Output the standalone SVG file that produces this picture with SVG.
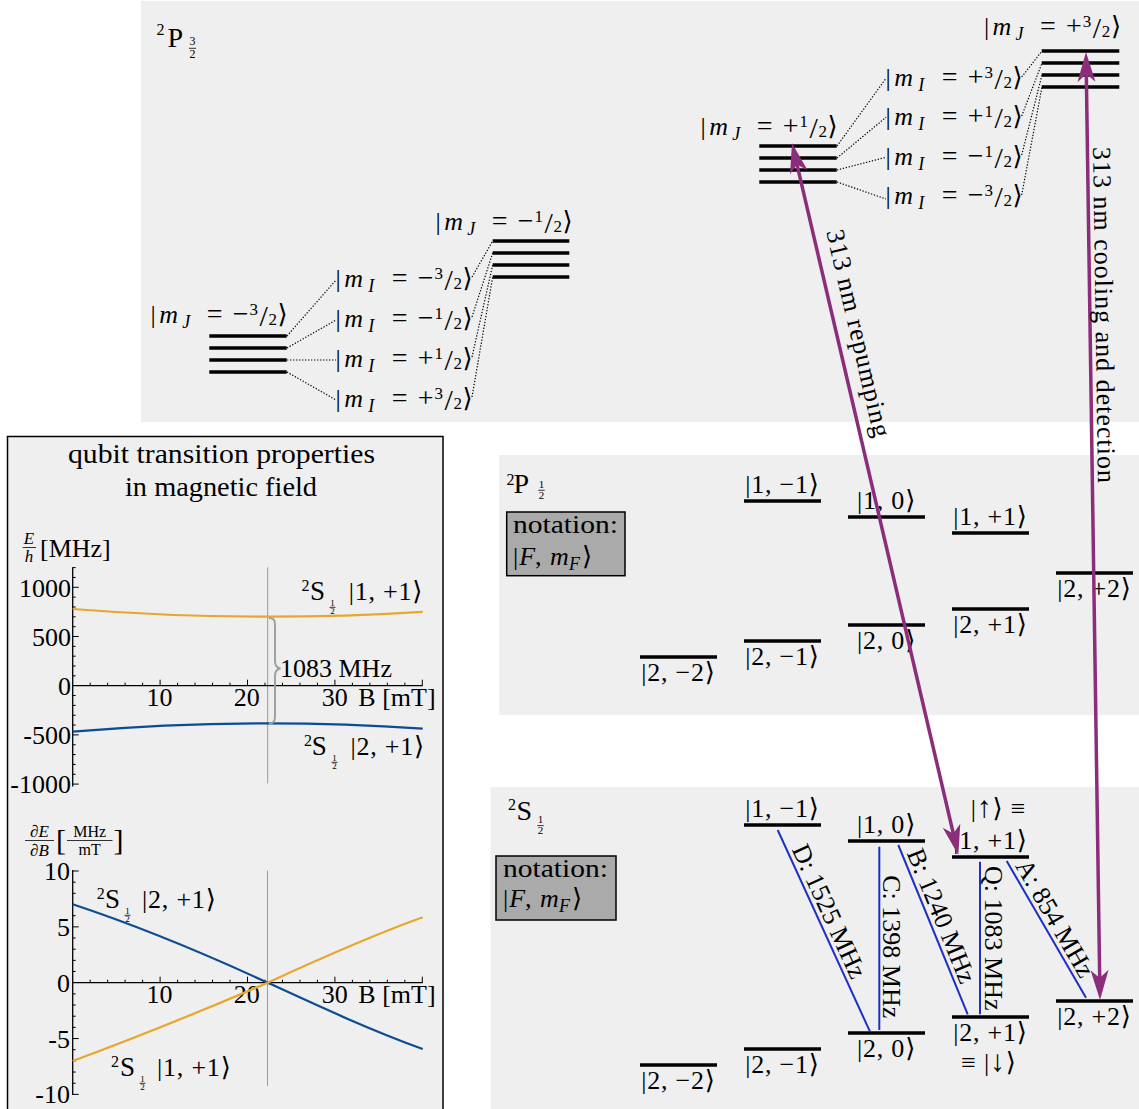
<svg xmlns="http://www.w3.org/2000/svg" width="1139" height="1109" viewBox="0 0 1139 1109">
<defs>
<style>
.t{font-family:"Liberation Serif","DejaVu Serif",serif;font-size:26px;fill:#000}
.k{font-family:"Liberation Serif","DejaVu Serif",serif;font-size:26px;fill:#000;text-anchor:middle}
.kt{font-family:"Liberation Serif","DejaVu Serif",serif;font-size:26px;fill:#000;text-anchor:middle;letter-spacing:0.8px}
.i{font-style:italic}
.sb{font-size:18px}
.fr{font-size:17px}
.op{font-size:28px}
.sl{font-size:30px}
.ar{font-size:30px}
.bg{fill:#efefef}
.bar{stroke:#000;stroke-width:3.5}
.dot{stroke:#000;stroke-width:1.2;stroke-dasharray:1.3 1.7;fill:none}
.blue{stroke:#1b30c8;stroke-width:2;fill:none}
.pur{stroke:#8b2d7b;stroke-width:3.5;fill:none;marker-start:url(#ah);marker-end:url(#ah)}
.ax{stroke:#000;stroke-width:1.3;fill:none}
.tk{stroke:#000;stroke-width:1;fill:none}
.gl{stroke:#9a9a9a;stroke-width:1;fill:none}
.note{fill:#aaaaaa;stroke:#000;stroke-width:1.5}
.fb{stroke:#000;stroke-width:0.8}
</style>
<marker id="ah" markerUnits="userSpaceOnUse" viewBox="-32 -10 44 20" refX="-8" refY="0" markerWidth="44" markerHeight="20" orient="auto-start-reverse">
<path d="M0,0 L-30,-9 L-22,0 L-30,9 Z" fill="#8b2d7b"/>
</marker>
</defs>

<rect width="1139" height="1109" fill="#fff"/>

<g id="backgrounds">
<rect class="bg" x="141" y="1" width="998" height="421"/>
<rect class="bg" x="499" y="455" width="640" height="260"/>
<rect class="bg" x="490.5" y="787" width="648.5" height="322"/>
<rect x="7.5" y="436.5" width="435.5" height="690" fill="#efefef" stroke="#000" stroke-width="1.5"/>
</g>

<g id="p32">
<g id="p32-term">
<text class="t" x="156.5" y="35" style="font-size:16px">2</text>
<text class="t" x="167.5" y="46.7" style="font-size:28px">P</text>
<text class="k" x="192.5" y="45" style="font-size:12px">3</text>
<line class="fb" x1="189" y1="48.3" x2="196" y2="48.3"/>
<text class="k" x="192.5" y="58.3" style="font-size:12px">2</text>
</g>

<g id="p32-mJ-m3-2">
<line class="bar" x1="209.3" y1="336" x2="286.7" y2="336"/>
<line class="bar" x1="209.3" y1="348" x2="286.7" y2="348"/>
<line class="bar" x1="209.3" y1="360" x2="286.7" y2="360"/>
<line class="bar" x1="209.3" y1="372" x2="286.7" y2="372"/>
<g transform="translate(151.7,323)"><text class="k"><tspan x="1.5">|</tspan><tspan class="i" x="17">m</tspan><tspan class="i sb" x="34.5" y="5">J</tspan><tspan class="op" x="63" y="0">=</tspan><tspan class="op" x="89" y="0">−</tspan><tspan class="fr" x="102" y="-8">3</tspan><tspan class="sl" x="112" y="3">/</tspan><tspan class="fr" x="121" y="2">2</tspan><tspan x="131" y="0">⟩</tspan></text></g>
</g>

<g id="p32-mJ-m1-2">
<line class="bar" x1="492.7" y1="241" x2="569.3" y2="241"/>
<line class="bar" x1="492.7" y1="253" x2="569.3" y2="253"/>
<line class="bar" x1="492.7" y1="265" x2="569.3" y2="265"/>
<line class="bar" x1="492.7" y1="277" x2="569.3" y2="277"/>
<g transform="translate(436.7,230)"><text class="k"><tspan x="1.5">|</tspan><tspan class="i" x="17">m</tspan><tspan class="i sb" x="34.5" y="5">J</tspan><tspan class="op" x="63" y="0">=</tspan><tspan class="op" x="89" y="0">−</tspan><tspan class="fr" x="102" y="-8">1</tspan><tspan class="sl" x="112" y="3">/</tspan><tspan class="fr" x="121" y="2">2</tspan><tspan x="131" y="0">⟩</tspan></text></g>
</g>

<g id="p32-mI-left">
<g transform="translate(336.7,287)"><text class="k"><tspan x="1.5">|</tspan><tspan class="i" x="17">m</tspan><tspan class="i sb" x="34.5" y="5">I</tspan><tspan class="op" x="63" y="0">=</tspan><tspan class="op" x="89" y="0">−</tspan><tspan class="fr" x="102" y="-8">3</tspan><tspan class="sl" x="112" y="3">/</tspan><tspan class="fr" x="121" y="2">2</tspan><tspan x="131" y="0">⟩</tspan></text></g>
<g transform="translate(336.7,327)"><text class="k"><tspan x="1.5">|</tspan><tspan class="i" x="17">m</tspan><tspan class="i sb" x="34.5" y="5">I</tspan><tspan class="op" x="63" y="0">=</tspan><tspan class="op" x="89" y="0">−</tspan><tspan class="fr" x="102" y="-8">1</tspan><tspan class="sl" x="112" y="3">/</tspan><tspan class="fr" x="121" y="2">2</tspan><tspan x="131" y="0">⟩</tspan></text></g>
<g transform="translate(336.7,367)"><text class="k"><tspan x="1.5">|</tspan><tspan class="i" x="17">m</tspan><tspan class="i sb" x="34.5" y="5">I</tspan><tspan class="op" x="63" y="0">=</tspan><tspan class="op" x="89" y="0">+</tspan><tspan class="fr" x="102" y="-8">1</tspan><tspan class="sl" x="112" y="3">/</tspan><tspan class="fr" x="121" y="2">2</tspan><tspan x="131" y="0">⟩</tspan></text></g>
<g transform="translate(336.7,407)"><text class="k"><tspan x="1.5">|</tspan><tspan class="i" x="17">m</tspan><tspan class="i sb" x="34.5" y="5">I</tspan><tspan class="op" x="63" y="0">=</tspan><tspan class="op" x="89" y="0">+</tspan><tspan class="fr" x="102" y="-8">3</tspan><tspan class="sl" x="112" y="3">/</tspan><tspan class="fr" x="121" y="2">2</tspan><tspan x="131" y="0">⟩</tspan></text></g>
</g>

<g id="p32-mJ-p1-2">
<line class="bar" x1="759.3" y1="146" x2="836.7" y2="146"/>
<line class="bar" x1="759.3" y1="158" x2="836.7" y2="158"/>
<line class="bar" x1="759.3" y1="170" x2="836.7" y2="170"/>
<line class="bar" x1="759.3" y1="182" x2="836.7" y2="182"/>
<g transform="translate(701.7,135)"><text class="k"><tspan x="1.5">|</tspan><tspan class="i" x="17">m</tspan><tspan class="i sb" x="34.5" y="5">J</tspan><tspan class="op" x="63" y="0">=</tspan><tspan class="op" x="89" y="0">+</tspan><tspan class="fr" x="102" y="-8">1</tspan><tspan class="sl" x="112" y="3">/</tspan><tspan class="fr" x="121" y="2">2</tspan><tspan x="131" y="0">⟩</tspan></text></g>
</g>

<g id="p32-mI-right">
<g transform="translate(886.7,86)"><text class="k"><tspan x="1.5">|</tspan><tspan class="i" x="17">m</tspan><tspan class="i sb" x="34.5" y="5">I</tspan><tspan class="op" x="63" y="0">=</tspan><tspan class="op" x="89" y="0">+</tspan><tspan class="fr" x="102" y="-8">3</tspan><tspan class="sl" x="112" y="3">/</tspan><tspan class="fr" x="121" y="2">2</tspan><tspan x="131" y="0">⟩</tspan></text></g>
<g transform="translate(886.7,125)"><text class="k"><tspan x="1.5">|</tspan><tspan class="i" x="17">m</tspan><tspan class="i sb" x="34.5" y="5">I</tspan><tspan class="op" x="63" y="0">=</tspan><tspan class="op" x="89" y="0">+</tspan><tspan class="fr" x="102" y="-8">1</tspan><tspan class="sl" x="112" y="3">/</tspan><tspan class="fr" x="121" y="2">2</tspan><tspan x="131" y="0">⟩</tspan></text></g>
<g transform="translate(886.7,164.5)"><text class="k"><tspan x="1.5">|</tspan><tspan class="i" x="17">m</tspan><tspan class="i sb" x="34.5" y="5">I</tspan><tspan class="op" x="63" y="0">=</tspan><tspan class="op" x="89" y="0">−</tspan><tspan class="fr" x="102" y="-8">1</tspan><tspan class="sl" x="112" y="3">/</tspan><tspan class="fr" x="121" y="2">2</tspan><tspan x="131" y="0">⟩</tspan></text></g>
<g transform="translate(886.7,204)"><text class="k"><tspan x="1.5">|</tspan><tspan class="i" x="17">m</tspan><tspan class="i sb" x="34.5" y="5">I</tspan><tspan class="op" x="63" y="0">=</tspan><tspan class="op" x="89" y="0">−</tspan><tspan class="fr" x="102" y="-8">3</tspan><tspan class="sl" x="112" y="3">/</tspan><tspan class="fr" x="121" y="2">2</tspan><tspan x="131" y="0">⟩</tspan></text></g>
</g>

<g id="p32-mJ-p3-2">
<line class="bar" x1="1041.7" y1="51" x2="1119.3" y2="51"/>
<line class="bar" x1="1041.7" y1="63" x2="1119.3" y2="63"/>
<line class="bar" x1="1041.7" y1="75" x2="1119.3" y2="75"/>
<line class="bar" x1="1041.7" y1="87" x2="1119.3" y2="87"/>
<g transform="translate(985,35)"><text class="k"><tspan x="1.5">|</tspan><tspan class="i" x="17">m</tspan><tspan class="i sb" x="34.5" y="5">J</tspan><tspan class="op" x="63" y="0">=</tspan><tspan class="op" x="89" y="0">+</tspan><tspan class="fr" x="102" y="-8">3</tspan><tspan class="sl" x="112" y="3">/</tspan><tspan class="fr" x="121" y="2">2</tspan><tspan x="131" y="0">⟩</tspan></text></g>
</g>
</g>

<g id="p12">
<g id="p12-term">
<text class="t" x="506.5" y="485" style="font-size:16px">2</text>
<text class="t" x="513.5" y="493.3" style="font-size:28px">P</text>
<text class="k" x="541.5" y="488" style="font-size:11px">1</text>
<line class="fb" x1="538.3" y1="490.3" x2="544.7" y2="490.3"/>
<text class="k" x="541.5" y="499" style="font-size:11px">2</text>
</g>
<g id="p12-notation">
<rect class="note" x="506.7" y="512" width="118.3" height="63.7"/>
<text class="t" x="513" y="533.3" textLength="105" lengthAdjust="spacingAndGlyphs">notation:</text>
<text class="t" x="513" y="565">|<tspan class="i" dx="1">F</tspan>, <tspan class="i" dx="2">m</tspan><tspan class="i sb" dy="5">F</tspan><tspan dy="-5" dx="2">⟩</tspan></text>
</g>
<g id="p12-1m1"><line class="bar" x1="744" y1="501" x2="821" y2="501"/><text class="kt" x="782.5" y="493">|1, −1⟩</text></g>
<g id="p12-10"><line class="bar" x1="848" y1="517" x2="925" y2="517"/><text class="kt" x="886.5" y="509">|1, 0⟩</text></g>
<g id="p12-1p1"><line class="bar" x1="952" y1="533" x2="1029" y2="533"/><text class="kt" x="990.5" y="525">|1, +1⟩</text></g>
<g id="p12-2p2"><line class="bar" x1="1056" y1="573" x2="1133" y2="573"/><text class="kt" x="1094.5" y="596.5">|2, +2⟩</text></g>
<g id="p12-2p1"><line class="bar" x1="952" y1="609" x2="1029" y2="609"/><text class="kt" x="990.5" y="632.5">|2, +1⟩</text></g>
<g id="p12-20"><line class="bar" x1="848" y1="625" x2="925" y2="625"/><text class="kt" x="886.5" y="648.5">|2, 0⟩</text></g>
<g id="p12-2m1"><line class="bar" x1="744" y1="641" x2="821" y2="641"/><text class="kt" x="782.5" y="664.5">|2, −1⟩</text></g>
<g id="p12-2m2"><line class="bar" x1="640" y1="657" x2="717" y2="657"/><text class="kt" x="678.5" y="680.5">|2, −2⟩</text></g>
</g>

<g id="s12">
<g id="s12-term">
<text class="t" x="508" y="810" style="font-size:16px">2</text>
<text class="t" x="516.5" y="820" style="font-size:28px">S</text>
<text class="k" x="540.5" y="823.3" style="font-size:11px">1</text>
<line class="fb" x1="537.3" y1="825.6" x2="543.7" y2="825.6"/>
<text class="k" x="540.5" y="834.3" style="font-size:11px">2</text>
</g>
<g id="s12-notation">
<rect class="note" x="496" y="856" width="120" height="64"/>
<text class="t" x="503" y="876.5" textLength="105" lengthAdjust="spacingAndGlyphs">notation:</text>
<text class="t" x="503" y="907">|<tspan class="i" dx="1">F</tspan>, <tspan class="i" dx="2">m</tspan><tspan class="i sb" dy="5">F</tspan><tspan dy="-5" dx="2">⟩</tspan></text>
</g>
<g id="s12-1m1"><line class="bar" x1="744" y1="825" x2="821" y2="825"/><text class="kt" x="782.5" y="817">|1, −1⟩</text></g>
<g id="s12-10"><line class="bar" x1="848" y1="841" x2="925" y2="841"/><text class="kt" x="886.5" y="833">|1, 0⟩</text></g>
<g id="s12-1p1"><line class="bar" x1="952" y1="857" x2="1029" y2="857"/><text class="kt" x="998.5" y="817">|<tspan class="ar">↑</tspan>⟩ ≡</text><text class="kt" x="990.5" y="849">|1, +1⟩</text></g>
<g id="s12-2p2"><line class="bar" x1="1056" y1="1001" x2="1133" y2="1001"/><text class="kt" x="1094.5" y="1024.5">|2, +2⟩</text></g>
<g id="s12-2p1"><line class="bar" x1="952" y1="1017" x2="1029" y2="1017"/><text class="kt" x="990.5" y="1040.5">|2, +1⟩</text><text class="kt" x="989" y="1071">≡ |<tspan class="ar">↓</tspan>⟩</text></g>
<g id="s12-20"><line class="bar" x1="848" y1="1033" x2="925" y2="1033"/><text class="kt" x="886.5" y="1056.5">|2, 0⟩</text></g>
<g id="s12-2m1"><line class="bar" x1="744" y1="1049" x2="821" y2="1049"/><text class="kt" x="782.5" y="1072.5">|2, −1⟩</text></g>
<g id="s12-2m2"><line class="bar" x1="640" y1="1065" x2="717" y2="1065"/><text class="kt" x="678.5" y="1088.5">|2, −2⟩</text></g>
</g>

<g id="plot-panel">
<text class="k" x="221.5" y="463" style="font-size:27px" textLength="307" lengthAdjust="spacingAndGlyphs">qubit transition properties</text>
<text class="k" x="221" y="496" style="font-size:27px" textLength="192" lengthAdjust="spacingAndGlyphs">in magnetic field</text>

<g id="plot-energy">
<text class="k i" x="29" y="543.5" style="font-size:17px">E</text>
<line class="fb" x1="22.7" y1="547.5" x2="36" y2="547.5"/>
<text class="k i" x="29" y="562" style="font-size:17px">h</text>
<text class="t" x="40" y="557">[MHz]</text>
<line class="gl" x1="267.7" y1="567.3" x2="267.7" y2="783.3"/>
<path class="ax" d="M72.7,567.3 V786.5 M72.7,685.7 H422.7"/>
<path class="tk" d="M90.18,685.7v-3M107.66,685.7v-3M125.14,685.7v-3M142.62,685.7v-3M160.1,685.7v-6M177.58,685.7v-3M195.06,685.7v-3M212.54,685.7v-3M230.02,685.7v-3M247.5,685.7v-6M264.98,685.7v-3M282.46,685.7v-3M299.94,685.7v-3M317.42,685.7v-3M334.9,685.7v-6M352.38,685.7v-3M369.86,685.7v-3M387.34,685.7v-3M404.82,685.7v-3M422.3,685.7v-6
M72.7,784.1h6M72.7,774.26h3M72.7,764.42h3M72.7,754.58h3M72.7,744.74h3M72.7,734.9h6M72.7,725.06h3M72.7,715.22h3M72.7,705.38h3M72.7,695.54h3M72.7,675.86h3M72.7,666.02h3M72.7,656.18h3M72.7,646.34h3M72.7,636.5h6M72.7,626.66h3M72.7,616.82h3M72.7,606.98h3M72.7,597.14h3M72.7,587.3h6M72.7,577.46h3M72.7,567.62h3"/>
<g font-family="Liberation Serif, DejaVu Serif, serif" font-size="26" text-anchor="end">
<text x="71" y="596.5">1000</text>
<text x="71" y="645.5">500</text>
<text x="71" y="695">0</text>
<text x="71" y="744">-500</text>
<text x="71" y="793">-1000</text>
</g>
<g font-family="Liberation Serif, DejaVu Serif, serif" font-size="26" text-anchor="middle">
<text x="159.5" y="706">10</text>
<text x="246.8" y="706">20</text>
<text x="334.7" y="706">30</text>
</g>
<text class="t" x="358.3" y="706">B [mT]</text>
<path d="M72.7,609 Q247.7,622.8 422.7,611.8" fill="none" stroke="#e5a82c" stroke-width="2.2"/>
<path d="M72.7,731.7 Q247.7,716.6 422.7,728.6" fill="none" stroke="#0d4b94" stroke-width="2.2"/>
<path d="M269,618 C275,618 275,621 275,628 L275,661 C275,666 277,668 280.5,668.5 C277,669 275,671 275,676 L275,714 C275,720 275,723 269,723.5" fill="none" stroke="#a0a0a0" stroke-width="2"/>
<text class="t" x="280" y="677.3">1083 MHz</text>
<g id="lbl-e-1p1">
<text class="t" x="301.5" y="591" style="font-size:16px">2</text>
<text class="t" x="310" y="600" style="font-size:27px">S</text>
<text class="k" x="332.5" y="605.8" style="font-size:9px">1</text>
<line class="fb" x1="329.5" y1="607.3" x2="335.5" y2="607.3" stroke-width="0.6"/>
<text class="k" x="332.5" y="613.8" style="font-size:9px">2</text>
<text class="t" x="423.3" y="600" text-anchor="end" letter-spacing="0.8">|1, +1⟩</text>
</g>
<g id="lbl-e-2p1">
<text class="t" x="304" y="746" style="font-size:16px">2</text>
<text class="t" x="311.7" y="755" style="font-size:27px">S</text>
<text class="k" x="334.5" y="760.8" style="font-size:9px">1</text>
<line class="fb" x1="331.5" y1="762.3" x2="337.5" y2="762.3" stroke-width="0.6"/>
<text class="k" x="334.5" y="768.8" style="font-size:9px">2</text>
<text class="t" x="425" y="755" text-anchor="end" letter-spacing="0.8">|2, +1⟩</text>
</g>
</g>

<g id="plot-derivative">
<text class="k i" x="39.5" y="837" style="font-size:17px">∂E</text>
<line class="fb" x1="25" y1="840.5" x2="54" y2="840.5"/>
<text class="k i" x="39.5" y="855.5" style="font-size:17px">∂B</text>
<text class="t" x="56" y="850" style="font-size:30px">[</text>
<text class="k" x="89.7" y="836.5" style="font-size:16px">MHz</text>
<line class="fb" x1="67" y1="840.5" x2="112.5" y2="840.5"/>
<text class="k" x="89.7" y="855" style="font-size:16px">mT</text>
<text class="t" x="113.5" y="850" style="font-size:30px">]</text>
<line class="gl" x1="267.5" y1="870.7" x2="267.5" y2="1086"/>
<path class="ax" d="M72.7,870 V1095 M72.7,982.7 H422.7"/>
<path class="tk" d="M90.18,982.7v-3M107.66,982.7v-3M125.14,982.7v-3M142.62,982.7v-3M160.1,982.7v-6M177.58,982.7v-3M195.06,982.7v-3M212.54,982.7v-3M230.02,982.7v-3M247.5,982.7v-6M264.98,982.7v-3M282.46,982.7v-3M299.94,982.7v-3M317.42,982.7v-3M334.9,982.7v-6M352.38,982.7v-3M369.86,982.7v-3M387.34,982.7v-3M404.82,982.7v-3M422.3,982.7v-6
M72.7,871h6M72.7,882.17h3M72.7,893.34h3M72.7,904.51h3M72.7,915.68h3M72.7,926.85h6M72.7,938.02h3M72.7,949.19h3M72.7,960.36h3M72.7,971.53h3M72.7,993.87h3M72.7,1005.04h3M72.7,1016.21h3M72.7,1027.38h3M72.7,1038.55h6M72.7,1049.72h3M72.7,1060.89h3M72.7,1072.06h3M72.7,1083.23h3M72.7,1094.4h6"/>
<g font-family="Liberation Serif, DejaVu Serif, serif" font-size="26" text-anchor="end">
<text x="70" y="880">10</text>
<text x="70" y="936">5</text>
<text x="70" y="992">0</text>
<text x="70" y="1047.5">-5</text>
<text x="70" y="1103.4">-10</text>
</g>
<g font-family="Liberation Serif, DejaVu Serif, serif" font-size="26" text-anchor="middle">
<text x="159.5" y="1003.3">10</text>
<text x="246.8" y="1003.3">20</text>
<text x="334.7" y="1003.3">30</text>
</g>
<text class="t" x="358.3" y="1003.3">B [mT]</text>
<path d="M72.7,904.3 C137.7,925.8 202.7,952.8 267.7,982.7 C319.4,1006.5 371,1030.4 422.7,1049" fill="none" stroke="#0d4b94" stroke-width="2.2"/>
<path d="M72.7,1061 C137.7,1037 202.7,1010.6 267.7,982.7 C319.4,958.9 371,935.9 422.7,917.3" fill="none" stroke="#e5a82c" stroke-width="2.2"/>
<g id="lbl-d-2p1">
<text class="t" x="96.7" y="899" style="font-size:16px">2</text>
<text class="t" x="105" y="908" style="font-size:27px">S</text>
<text class="k" x="127.5" y="913.8" style="font-size:9px">1</text>
<line class="fb" x1="124.5" y1="915.3" x2="130.5" y2="915.3" stroke-width="0.6"/>
<text class="k" x="127.5" y="921.8" style="font-size:9px">2</text>
<text class="t" x="142" y="908" letter-spacing="0.8">|2, +1⟩</text>
</g>
<g id="lbl-d-1p1">
<text class="t" x="111" y="1067" style="font-size:16px">2</text>
<text class="t" x="120" y="1076" style="font-size:27px">S</text>
<text class="k" x="142.5" y="1081.8" style="font-size:9px">1</text>
<line class="fb" x1="139.5" y1="1083.3" x2="145.5" y2="1083.3" stroke-width="0.6"/>
<text class="k" x="142.5" y="1089.8" style="font-size:9px">2</text>
<text class="t" x="157" y="1076" letter-spacing="0.8">|1, +1⟩</text>
</g>
</g>
</g>

<g id="connectors">
<g id="dotted">
<path class="dot" d="M287,336 L336,280 M287,348 L336,320 M287,360 L336,360 M287,372 L336,400
M472,277 L492.7,241 M472,317 L492.7,253 M472,357 L492.7,265 M472,397 L492.7,277
M837,146 L886,78.3 M837,158 L886,117.3 M837,170 L886,157.3 M837,182 L886,199
M1021.7,77 L1042,51 M1021.7,116 L1042,63 M1021.7,155 L1042,75 M1021.7,195 L1042,87"/>
</g>
<g id="transitions">
<line class="blue" x1="777.7" y1="830" x2="870" y2="1031.7"/>
<line class="blue" x1="879.3" y1="846.7" x2="879.3" y2="1030"/>
<line class="blue" x1="898.3" y1="845" x2="967.7" y2="1014.3"/>
<line class="blue" x1="980" y1="861.7" x2="980" y2="1014.3"/>
<line class="blue" x1="1006.7" y1="861" x2="1086" y2="997.7"/>
<g class="k">
<text transform="translate(821.5,914.8) rotate(65.4)">D: 1525 MHz</text>
<text transform="translate(883.3,946.7) rotate(90)">C: 1398 MHz</text>
<text transform="translate(933.6,919.1) rotate(67.7)">B: 1240 MHz</text>
<text transform="translate(984.5,938.3) rotate(90)">Q: 1083 MHz</text>
<text transform="translate(1047.7,922.7) rotate(59.9)">A: 854 MHz</text>
</g>
</g>
<g id="lasers">
<path class="pur" d="M793.8,150.8 L956.5,847.2"/>
<path class="pur" d="M1086.1,60 L1099.9,992"/>
<text class="k" transform="translate(850.2,335.1) rotate(76.9)" textLength="212">313 nm repumping</text>
<text class="k" transform="translate(1095.5,315) rotate(89.15)" textLength="336">313 nm cooling and detection</text>
</g>
</g>
</svg>
